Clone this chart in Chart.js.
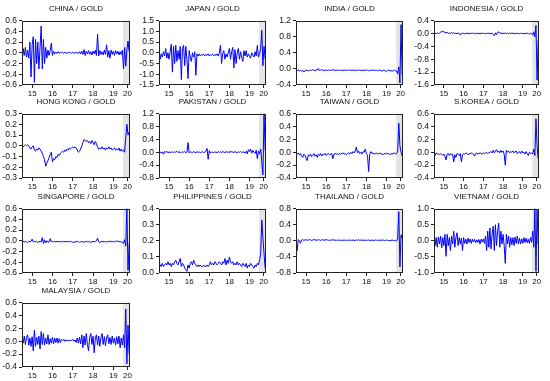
<!DOCTYPE html>
<html>
<head>
<meta charset="utf-8">
<script src="https://cdn.jsdelivr.net/npm/chart.js@4.4.1/dist/chart.umd.min.js"></script>
<style>
  html, body { margin: 0; padding: 0; background: #fff; }
  #wrap { position: relative; width: 550px; height: 381px; overflow: hidden; }
  #wrap canvas { position: absolute; }
</style>
</head>
<body>
<div id="wrap"></div>
<script>
// time axis: 18 obs a year, Jan 2015 .. Apr 2020
const dates = Array.from({ length: 96 }, (_, i) => 2015 + i / 18);
const yearLabels = ['15', '16', '17', '18', '19', '20'];
const yearLabelPos = [2015.5, 2016.5, 2017.5, 2018.5, 2019.5, 2020.2];
const shadeFrom = 2019.98;

const china = [
  -0.2, 0.08, -0.05, 0.1, -0.08, 0.05, -0.1, 0.2, -0.45, 0.15, 0.3, -0.55,
  0.25, -0.2, 0.2, -0.3, 0.1, 0.5, -0.3, 0.25, -0.2, 0.1, -0.1, 0.05,
  -0.05, 0.04, 0.18, -0.05, 0.03, -0.02, 0.01, -0.01, 0.02, -0.01, 0.01, 0,
  0.01, -0.01, 0.01, 0, -0.01, 0.01, 0, 0.01, -0.01, 0.01, 0, -0.01,
  0.01, 0, -0.01, 0.02, -0.02, 0.03, -0.03, 0.06, -0.05, 0.03, -0.02, 0.04,
  -0.03, 0.02, -0.04, 0.03, -0.02, 0.05, -0.05, 0.35, -0.06, 0.04, -0.03, 0.02,
  -0.04, 0.05, -0.03, 0.15, -0.08, 0.04, -0.1, 0.05, -0.03, 0.03, -0.05, 0.04,
  -0.02, 0.03, -0.04, 0.02, -0.03, 0.05, -0.3, 0.1, -0.25, 0.05, 0.22, 0.02
];
const japan = [
  0.2, -0.3, -0.05, -0.2, 0.05, -0.15, 0.2, -0.25, 0, -0.3, 0.05, 0.4,
  -0.9, 0.3, -0.5, 0.35, -0.4, 0.1, -0.3, 0.3, -1.25, 0.2, 0.35, -0.6,
  0.3, -0.3, -1.2, 0.1, -0.2, -0.4, 0, -0.2, 0.05, -1.05, -0.05, -0.15,
  -0.05, -0.15, -0.08, -0.12, -0.06, -0.14, -0.08, -0.12, -0.05, -0.15, -0.09, -0.11,
  -0.06, -0.14, -0.08, -0.12, -0.05, -0.15, 0.0, 0.35, -0.5, -0.05, 0.1, -0.3,
  -0.05, -0.2, 0.0, 0.2, -0.3, 0.05, 0.25, -0.7, 0.15, -0.5, 0.0, 0.2,
  -0.3, 0.05, -0.2, -0.4, 0.1, -0.15, 0.1, -0.2, -0.05, -0.15, -0.25, 0.0,
  -0.1, -0.2, 0.05, -0.15, 0.35, -0.2, -0.05, 0.2, 1.05, -0.6, 0.3, -0.3
];
const india = [
  -0.03, -0.04, -0.03, -0.05, -0.04, -0.06, -0.04, -0.08, -0.05, -0.04, -0.03, -0.05,
  -0.04, -0.03, -0.04, -0.02, -0.03, -0.05, -0.02, -0.03, 0.01, -0.04, -0.03, -0.02,
  -0.03, -0.04, -0.03, -0.03, -0.04, -0.03, -0.03, -0.04, -0.03, -0.02, -0.03, -0.04,
  -0.03, -0.04, -0.03, -0.03, -0.04, -0.03, -0.04, -0.03, -0.03, -0.04, -0.03, -0.04,
  -0.03, -0.03, -0.04, -0.03, -0.03, -0.04, -0.03, -0.04, -0.03, -0.03, -0.04, -0.03,
  -0.04, -0.03, -0.04, -0.03, -0.03, -0.05, -0.03, -0.04, -0.03, -0.03, -0.04, -0.03,
  -0.04, -0.03, -0.05, -0.03, -0.04, -0.06, -0.03, -0.04, -0.05, -0.07, -0.04, -0.03,
  -0.05, -0.04, -0.06, -0.04, -0.03, -0.05, -0.05, -0.12, 0.05, -0.35, 1.1, -0.15
];
const indonesia = [
  0.0, 0.01, -0.01, 0.02, 0.0, 0.01, 0.03, 0.08, 0.05, 0.06, 0.03, 0.02,
  0.04, 0.0, 0.02, -0.01, 0.03, 0.01, 0.02, 0.0, 0.01, -0.01, 0.02, 0.0,
  -0.05, 0.01, 0.0, 0.01, -0.01, 0.0, 0.01, 0.0, -0.01, 0.01, 0.0, 0.01,
  0.0, 0.01, -0.01, 0.0, 0.01, 0.0, -0.01, 0.01, 0.0, 0.01, 0.0, -0.01,
  0.01, 0.0, 0.01, -0.01, 0.0, 0.01, -0.03, -0.07, 0.02, -0.04, 0.04, 0.05,
  0.0, 0.02, -0.01, 0.01, 0.0, 0.02, -0.01, 0.01, 0.0, 0.01, 0.0, 0.01,
  0.0, 0.01, -0.01, 0.0, 0.01, 0.0, -0.01, 0.01, 0.0, 0.0, 0.01, -0.01,
  0.0, 0.01, 0.0, -0.02, 0.01, 0.0, -0.05, 0.05, -0.1, 0.25, -1.45, -0.2
];
const hongKong = [
  -0.02, -0.01, 0.0, 0.01, 0.0, 0.01, 0.0, -0.02, -0.03, -0.01, 0.0, -0.04,
  -0.05, -0.03, -0.04, -0.02, -0.03, -0.05, -0.07, -0.1, -0.13, -0.19, -0.16, -0.14,
  -0.11, -0.08, -0.06, -0.15, -0.12, -0.13, -0.1, -0.11, -0.08, -0.09, -0.07, -0.06,
  -0.05, -0.06, -0.04, -0.05, -0.03, -0.04, -0.02, -0.03, -0.02, -0.01, -0.02, -0.01,
  -0.02, -0.04, -0.06, -0.05, -0.03, 0.0, 0.03, 0.06, 0.05, 0.04, 0.05, 0.03,
  0.04, 0.02, 0.05, 0.03, 0.01, 0.04, 0.02, -0.01, -0.03, -0.02, -0.03, -0.01,
  -0.03, -0.02, -0.04, -0.02, -0.03, -0.01, -0.03, -0.02, -0.04, -0.03, -0.02, -0.04,
  -0.03, -0.04, -0.02, -0.05, -0.03, -0.05, -0.04, -0.06, 0.08, 0.2, 0.1, 0.13
];
const pakistan = [
  0.0, 0.02, -0.03, 0.01, -0.06, 0.02, 0.0, 0.03, -0.02, 0.01, 0.0, -0.01,
  0.02, -0.02, 0.01, 0.0, 0.03, -0.01, 0.01, 0.0, -0.02, 0.01, 0.0, 0.02,
  -0.01, 0.0, 0.3, -0.02, 0.01, 0.0, -0.01, 0.02, 0.0, -0.01, 0.01, 0.0,
  0.01, -0.01, 0.0, 0.02, -0.01, 0.0, 0.03, 0.12, -0.22, 0.05, -0.03, 0.01,
  0.0, -0.01, 0.01, 0.0, -0.01, 0.02, 0.0, 0.01, -0.02, 0.03, 0.0, -0.01,
  0.02, 0.0, 0.01, -0.02, 0.04, 0.0, 0.01, -0.01, 0.02, 0.0, -0.01, 0.01,
  0.0, 0.02, -0.01, 0.01, 0.0, -0.02, 0.03, -0.05, 0.08, 0.02, 0.1, -0.03,
  0.05, 0.0, -0.04, 0.06, -0.2, 0.04, -0.05, 0.1, -0.3, -0.7, 1.2, 0.05
];
const taiwan = [
  -0.02, -0.03, -0.01, -0.04, -0.02, -0.06, -0.08, -0.03, -0.05, -0.09, -0.13, -0.04,
  -0.06, -0.03, -0.07, -0.05, -0.02, -0.06, -0.04, -0.08, -0.03, -0.05, -0.02, -0.06,
  -0.03, -0.04, -0.02, -0.05, -0.03, -0.02, -0.04, -0.03, -0.02, -0.1, -0.03, -0.02,
  -0.03, -0.02, -0.04, -0.02, -0.03, -0.02, -0.01, -0.03, -0.02, -0.04, -0.02, -0.01,
  -0.03, 0.0, -0.02, 0.01, -0.01, 0.02, 0.08, -0.01, 0.02, -0.02, 0.0, -0.03,
  0.01, 0.0, 0.05, -0.02, -0.05, -0.3, -0.03, 0.01, -0.02, -0.01, -0.03, -0.02,
  -0.01, -0.03, -0.02, -0.01, -0.03, -0.02, -0.04, -0.02, -0.03, -0.01, -0.03, -0.02,
  -0.04, -0.02, -0.03, -0.02, -0.01, -0.03, -0.02, 0.02, 0.45, 0.1, 0.0, -0.06
];
const sKorea = [
  -0.02, -0.05, -0.01, -0.03, -0.02, -0.04, -0.02, -0.03, -0.05, -0.03, -0.06, -0.12,
  -0.03, -0.02, -0.05, -0.02, -0.04, -0.03, -0.15, -0.04, -0.08, -0.02, -0.03, -0.05,
  -0.02, -0.15, -0.04, -0.02, -0.03, -0.01, -0.02, -0.04, -0.02, -0.03, -0.01, -0.02,
  -0.03, -0.06, -0.02, -0.01, -0.03, -0.02, -0.01, -0.02, -0.03, -0.01, -0.02, -0.01,
  0.0, -0.02, -0.01, 0.0, 0.01, -0.01, 0.03, -0.01, 0.02, 0.04, 0.0, 0.02,
  -0.01, 0.03, 0.0, 0.02, -0.03, -0.2, 0.03, 0.0, 0.02, -0.01, 0.01, 0.0,
  0.02, -0.01, 0.01, 0.02, -0.02, 0.0, 0.01, -0.02, 0.02, -0.01, 0.0, -0.03,
  0.01, -0.02, -0.05, 0.0, -0.02, -0.01, -0.03, 0.05, -0.05, 0.52, 0.1, -0.1
];
const singapore = [
  -0.02, -0.01, -0.02, -0.01, -0.02, -0.03, -0.01, -0.02, -0.01, 0.03, -0.02, -0.01,
  -0.02, -0.01, -0.03, -0.02, -0.01, -0.02, 0.06, -0.05, 0.02, -0.04, 0.0, -0.03,
  -0.02, 0.04, -0.02, -0.01, -0.02, -0.01, -0.02, -0.01, -0.02, -0.01, -0.02, -0.01,
  -0.02, -0.01, -0.02, -0.01, -0.02, -0.01, -0.02, -0.01, -0.02, -0.03, -0.02, -0.03,
  -0.01, -0.02, -0.01, -0.03, -0.02, -0.01, -0.02, -0.03, -0.01, -0.02, -0.01, -0.02,
  -0.01, -0.03, -0.02, -0.01, -0.02, -0.01, 0.0, 0.05, -0.02, -0.04, -0.01, -0.02,
  -0.01, -0.02, -0.01, -0.02, -0.01, -0.02, 0.0, -0.02, -0.01, -0.02, -0.01, -0.02,
  0.0, -0.01, -0.02, -0.01, -0.03, -0.02, -0.05, 0.02, -0.1, 0.6, -0.55, -0.05
];
const philippines = [
  0.07, 0.05, 0.04, 0.06, 0.04, 0.05, 0.06, 0.05, 0.07, 0.05, 0.06, 0.04,
  0.06, 0.05, 0.07, 0.08, 0.06, 0.05, 0.07, 0.09, 0.04, 0.06, 0.05, 0.03,
  0.02, 0.01, 0.05, 0.03, 0.06, 0.07, 0.05, 0.08, 0.06, 0.05, 0.04, 0.05,
  0.04, 0.05, 0.04, 0.04, 0.05, 0.04, 0.04, 0.05, 0.04, 0.05, 0.07, 0.05,
  0.06, 0.05, 0.07, 0.06, 0.05, 0.06, 0.07, 0.06, 0.05, 0.07, 0.06, 0.09,
  0.05, 0.08, 0.06, 0.1, 0.07, 0.06, 0.07, 0.05, 0.06, 0.05, 0.07, 0.05,
  0.06, 0.05, 0.04, 0.06, 0.05, 0.04, 0.06, 0.03, 0.05, 0.04, 0.06, 0.05,
  0.04, 0.03, 0.05, 0.04, 0.06, 0.05, 0.08, 0.12, 0.33, 0.22, 0.12, 0.03
];
const thailand = [
  0.02, -0.25, 0.03, 0.01, -0.06, 0.02, 0.03, 0.01, 0.02, 0.03, 0.01, 0.02,
  0.03, 0.02, 0.01, 0.02, 0.03, 0.02, 0.02, 0.01, 0.03, 0.02, 0.01, 0.02,
  0.03, 0.01, 0.02, 0.03, 0.02, 0.01, 0.02, 0.01, 0.02, 0.03, 0.01, 0.02,
  0.01, 0.02, 0.01, 0.02, 0.01, 0.01, 0.02, 0.01, 0.02, 0.01, 0.01, 0.02,
  0.01, 0.02, 0.01, 0.02, 0.01, 0.01, 0.02, 0.01, 0.03, 0.01, 0.02, 0.01,
  0.02, 0.01, 0.01, 0.02, 0.01, 0.02, 0.01, 0.01, 0.02, 0.01, 0.01, 0.02,
  0.01, 0.02, 0.01, 0.01, 0.02, 0.01, 0.02, 0.01, 0.01, 0.02, 0.01, 0.01,
  0.0, 0.01, 0.02, 0.01, 0.0, 0.01, 0.0, 0.05, 0.72, -0.65, 0.15, 0.05
];
const vietnam = [
  0.25, -0.15, 0.1, -0.2, 0.12, -0.1, 0.15, -0.22, 0.1, -0.15, 0.2, -0.48,
  0.2, -0.15, 0.1, -0.3, 0.15, -0.1, 0.3, -0.2, 0.1, 0.25, -0.15, 0.1,
  -0.1, 0.08, -0.3, 0.1, -0.08, 0.05, -0.1, 0.08, -0.05, 0.06, -0.08, 0.05,
  -0.04, 0.05, -0.06, 0.03, -0.05, 0.04, -0.1, 0.05, -0.04, 0.06, -0.08, 0.15,
  -0.3, 0.3, -0.2, 0.4, -0.25, 0.2, 0.45, -0.3, 0.5, -0.15, 0.3, 0.55,
  -0.2, 0.3, -0.1, 0.2, -0.15, -0.7, 0.2, -0.1, 0.15, -0.2, 0.1, -0.12,
  0.1, -0.15, 0.12, -0.08, 0.15, -0.1, 0.08, -0.1, 0.06, -0.08, 0.1, -0.05,
  0.08, -0.06, 0.05, -0.08, 0.1, -0.05, 0.3, -0.2, 1.0, -0.95, 0.95, -0.1
];
const malaysia = [
  0.05, -0.03, 0.08, -0.05, 0.06, 0.1, -0.06, 0.05, -0.08, 0.07, -0.15, 0.17,
  -0.08, 0.06, -0.05, 0.08, -0.12, 0.15, -0.05, 0.12, -0.06, 0.05, -0.04, 0.1,
  -0.05, 0.04, -0.03, 0.06, -0.04, 0.05, -0.02, 0.05, -0.03, 0.04, -0.02, 0.03,
  0.01, 0.03, 0.0, 0.02, 0.01, 0.02, 0.0, 0.02, 0.01, 0.03, 0.0, 0.02,
  -0.02, 0.05, -0.03, 0.06, -0.04, 0.1, -0.1, 0.08, -0.06, 0.12, -0.05, -0.15,
  0.06, 0.12, -0.05, 0.08, -0.18, 0.05, 0.1, -0.06, 0.08, -0.08, 0.06, 0.12,
  -0.05, 0.07, -0.07, 0.05, 0.1, -0.04, 0.06, -0.05, 0.08, -0.03, 0.05, -0.06,
  0.07, -0.04, 0.08, -0.1, 0.05, -0.06, 0.1, -0.1, 0.5, -0.35, 0.25, -0.2
];

const panels = [
  { title: 'CHINA / GOLD', data: china, min: -0.6, max: 0.6, step: 0.2 },
  { title: 'JAPAN / GOLD', data: japan, min: -1.5, max: 1.5, step: 0.5 },
  { title: 'INDIA / GOLD', data: india, min: -0.4, max: 1.2, step: 0.4 },
  { title: 'INDONESIA / GOLD', data: indonesia, min: -1.6, max: 0.4, step: 0.4 },
  { title: 'HONG KONG / GOLD', data: hongKong, min: -0.3, max: 0.3, step: 0.1 },
  { title: 'PAKISTAN / GOLD', data: pakistan, min: -0.8, max: 1.2, step: 0.4 },
  { title: 'TAIWAN / GOLD', data: taiwan, min: -0.4, max: 0.6, step: 0.2 },
  { title: 'S.KOREA / GOLD', data: sKorea, min: -0.4, max: 0.6, step: 0.2 },
  { title: 'SINGAPORE / GOLD', data: singapore, min: -0.6, max: 0.6, step: 0.2 },
  { title: 'PHILIPPINES / GOLD', data: philippines, min: 0.0, max: 0.4, step: 0.1 },
  { title: 'THAILAND / GOLD', data: thailand, min: -0.8, max: 0.8, step: 0.4 },
  { title: 'VIETNAM / GOLD', data: vietnam, min: -1.0, max: 1.0, step: 0.5 },
  { title: 'MALAYSIA / GOLD', data: malaysia, min: -0.4, max: 0.6, step: 0.2 }
];

// grid of plot frames
const colLeft = [22, 159, 296, 434];
const colWidth = [108, 107, 107, 105];
const rowTop = [21, 114, 209, 303];
const plotH = 64;
const axisW = 22, titleH = 21, xAxisH = 15;
const FONT = "'Liberation Sans', Arial, sans-serif";

const framePlugin = {
  id: 'frame',
  beforeDatasetsDraw(chart) {
    const { ctx, chartArea: a, scales: { x } } = chart;
    const s = x.getPixelForValue(shadeFrom);
    ctx.save();
    ctx.fillStyle = '#e4e4e4';
    ctx.fillRect(s, a.top, a.right - s, a.bottom - a.top);
    ctx.restore();
  },
  afterDraw(chart) {
    const { ctx, chartArea: a } = chart;
    ctx.save();
    ctx.strokeStyle = '#222';
    ctx.lineWidth = 1;
    ctx.strokeRect(Math.round(a.left) + 0.5, Math.round(a.top) + 0.5,
      Math.round(a.right - a.left) - 1, Math.round(a.bottom - a.top) - 1);
    ctx.restore();
  }
};

const wrap = document.getElementById('wrap');

panels.forEach((p, idx) => {
  const col = idx % 4, row = Math.floor(idx / 4);
  const canvas = document.createElement('canvas');
  // symmetric canvas so the title centres over the plot frame
  const w = axisW + colWidth[col] + axisW;
  const h = titleH + plotH + xAxisH;
  canvas.width = w;
  canvas.height = h;
  canvas.style.left = (colLeft[col] - axisW) + 'px';
  canvas.style.top = (rowTop[row] - titleH) + 'px';
  wrap.appendChild(canvas);

  new Chart(canvas, {
    type: 'line',
    data: {
      datasets: [{
        data: dates.map((d, i) => ({ x: d, y: p.data[i] })),
        borderColor: '#0000ff',
        borderWidth: 1,
        pointRadius: 0,
        tension: 0,
        fill: false
      }]
    },
    options: {
      responsive: false,
      animation: false,
      devicePixelRatio: 1,
      plugins: {
        legend: { display: false },
        tooltip: { enabled: false },
        title: {
          display: true,
          text: p.title,
          color: '#111',
          font: { family: FONT, size: 8, weight: 'normal' },
          padding: { top: 4, bottom: 7 }
        }
      },
      scales: {
        x: {
          type: 'linear',
          min: 2015,
          max: 2020.32,
          afterBuildTicks: (scale) => { scale.ticks = yearLabelPos.map(v => ({ value: v })); },
          afterFit: (scale) => { scale.height = xAxisH; },
          ticks: {
            autoSkip: false,
            maxRotation: 0,
            padding: 1,
            color: '#111',
            font: { family: FONT, size: 8 },
            callback: (v, i) => yearLabels[i]
          },
          grid: { drawOnChartArea: false, tickLength: 3, color: '#222' },
          border: { display: false }
        },
        y: {
          min: p.min,
          max: p.max,
          afterFit: (scale) => { scale.width = axisW; },
          ticks: {
            stepSize: p.step,
            autoSkip: false,
            padding: 2,
            color: '#111',
            font: { family: FONT, size: 8.5 },
            callback: (v) => (Math.abs(v) < 1e-9 ? '0.0' : Number(v).toFixed(1))
          },
          grid: { drawOnChartArea: false, tickLength: 3, color: '#222' },
          border: { display: false }
        },
        yPad: {
          position: 'right',
          display: true,
          afterFit: (scale) => { scale.width = axisW; },
          ticks: { display: false },
          grid: { display: false, drawTicks: false },
          border: { display: false }
        }
      }
    },
    plugins: [framePlugin]
  });
});
</script>
</body>
</html>
